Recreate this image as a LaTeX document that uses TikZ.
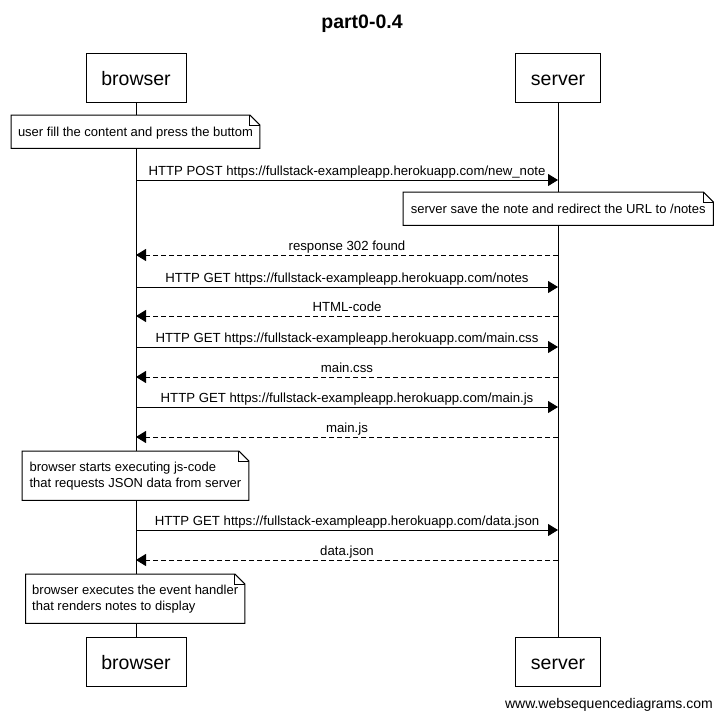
\documentclass[tikz,border=0pt]{standalone}
\usepackage{fontspec}
\setmainfont{Liberation Sans}
\usetikzlibrary{arrows.meta}
\newcommand\notefoldpath[1]{%
  \draw[line width=1pt] (#1.north west) -- ([xshift=-10pt]#1.north east) -- ([yshift=-10pt]#1.north east) -- (#1.south east) -- (#1.south west) -- cycle;
  \draw[line width=1pt] ([xshift=-10pt]#1.north east) -- ([xshift=-10pt,yshift=-10pt]#1.north east) -- ([yshift=-10pt]#1.north east);
}
\begin{document}
\begin{tikzpicture}[x=1pt,y=-1pt,
  actor/.style={draw, line width=1pt, fill=white, minimum height=49pt, inner sep=0pt,
    text height=15pt, text depth=0pt, font=\fontsize{19.5}{23}\selectfont},
  notebox/.style={fill=white, anchor=north west, inner xsep=6.5pt,
    align=left, font=\fontsize{13}{16}\selectfont},
  onenote/.style={notebox, inner ysep=11pt, text height=10pt, text depth=1pt},
  twonote/.style={notebox, inner ysep=0pt, minimum height=49pt},
  msg/.style={line width=1pt, -{Triangle[length=10pt,width=12pt]}},
  ret/.style={msg, dash pattern=on 5pt off 3pt},
  lbl/.style={midway, anchor=base, yshift=5pt, inner sep=0pt, font=\fontsize{13.2}{16}\selectfont},
  lifeline/.style={line width=1pt}
]
\fill[white] (0,0) rectangle (723,720);
\useasboundingbox (0,0) rectangle (723,720);

\node[anchor=base, inner sep=0pt, font=\bfseries\fontsize{19.5}{23}\selectfont] (title) at (362,28) {part0-0.4};

% actors
\node[actor, minimum width=100pt] (bt) at (136,77.5) {browser};
\node[actor, minimum width=85pt] (st) at (558,77.5) {server};
\node[actor, minimum width=100pt] (bb) at (136,661.5) {browser};
\node[actor, minimum width=85pt] (sb) at (558,661.5) {server};

% lifelines
\draw[lifeline] (bt.south) -- (bb.north);
\draw[lifeline] (st.south) -- (sb.north);

% note 1
\node[onenote, minimum width=248.5pt] (n1) at (11,115) {user fill the content and press the buttom};
\notefoldpath{n1}

% message 1
\coordinate (b1) at (136,180); \coordinate (s1) at (558,180);
\draw[msg] (b1) -- (s1) node[lbl] {HTTP POST https://fullstack-exampleapp.herokuapp.com/new\_note};

% note 2
\node[onenote, inner xsep=7pt, minimum width=310pt] (n2) at (403,192) {server save the note and redirect the URL to /notes};
\notefoldpath{n2}

\coordinate (b2) at (136,255); \coordinate (s2) at (558,255);
\draw[ret] (s2) -- (b2) node[lbl] {response 302 found};

\coordinate (b3) at (136,287); \coordinate (s3) at (558,287);
\draw[msg] (b3) -- (s3) node[lbl] {HTTP GET https://fullstack-exampleapp.herokuapp.com/notes};

\coordinate (b4) at (136,316); \coordinate (s4) at (558,316);
\draw[ret] (s4) -- (b4) node[lbl] {HTML-code};

\coordinate (b5) at (136,347); \coordinate (s5) at (558,347);
\draw[msg] (b5) -- (s5) node[lbl] {HTTP GET https://fullstack-exampleapp.herokuapp.com/main.css};

\coordinate (b6) at (136,377); \coordinate (s6) at (558,377);
\draw[ret] (s6) -- (b6) node[lbl] {main.css};

\coordinate (b7) at (136,407); \coordinate (s7) at (558,407);
\draw[msg] (b7) -- (s7) node[lbl] {HTTP GET https://fullstack-exampleapp.herokuapp.com/main.js};

\coordinate (b8) at (136,437); \coordinate (s8) at (558,437);
\draw[ret] (s8) -- (b8) node[lbl] {main.js};

% note 3
\node[twonote, minimum width=226.5pt] (n3) at (22,451) {browser starts executing js-code\\that requests JSON data from server};
\notefoldpath{n3}

\coordinate (b9) at (136,530); \coordinate (s9) at (558,530);
\draw[msg] (b9) -- (s9) node[lbl] {HTTP GET https://fullstack-exampleapp.herokuapp.com/data.json};

\coordinate (b10) at (136,560); \coordinate (s10) at (558,560);
\draw[ret] (s10) -- (b10) node[lbl] {data.json};

% note 4
\node[twonote, minimum width=218.5pt] (n4) at (25.5,574) {browser executes the event handler\\that renders notes to display};
\notefoldpath{n4}

\node[anchor=base east, inner sep=0pt, font=\fontsize{14}{17}\selectfont] (footer) at (713,708) {www.websequencediagrams.com};
\end{tikzpicture}
\end{document}
